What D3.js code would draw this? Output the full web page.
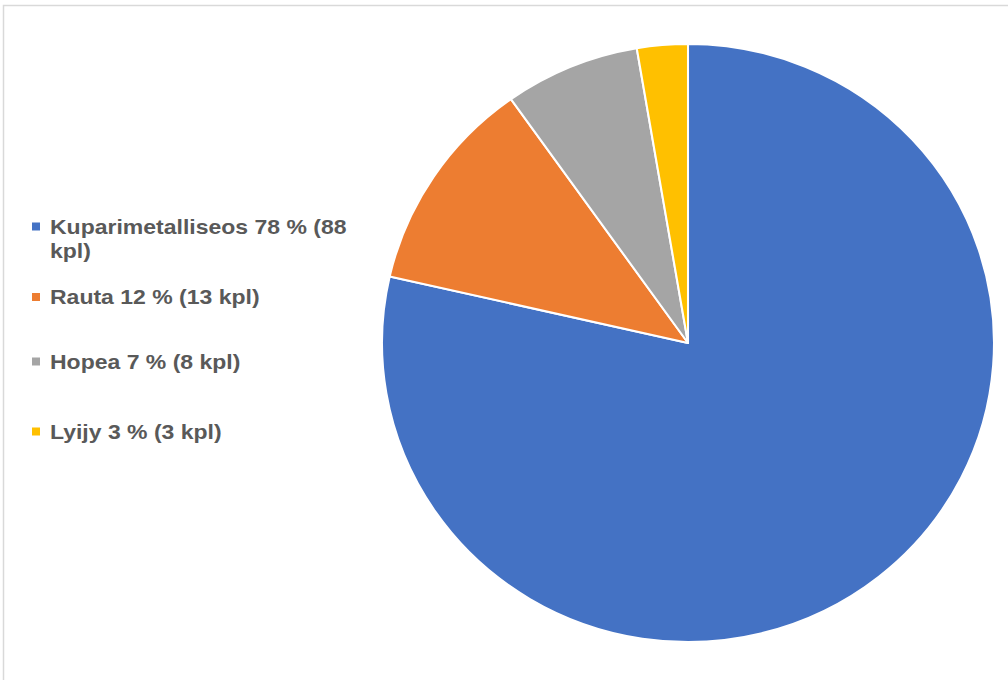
<!DOCTYPE html>
<html><head><meta charset="utf-8">
<script src="https://cdn.jsdelivr.net/npm/d3@7"></script>
<style>body{margin:0;background:#fff;}svg{display:block;}</style>
</head><body>
<svg id="chart" width="1008" height="680"></svg>
<script>
const categories = ["Kuparimetalliseos", "Rauta", "Hopea", "Lyijy"];
const values = [88, 13, 8, 3];
const percents = [78, 12, 7, 3];
const colors = ["#4472C4", "#ED7D31", "#A5A5A5", "#FFC000"];
const legendLines = [["Kuparimetalliseos 78 % (88", "kpl)"], ["Rauta 12 % (13 kpl)"], ["Hopea 7 % (8 kpl)"], ["Lyijy 3 % (3 kpl)"]];

const svg = d3.select("#chart");
svg.append("rect").attr("x", 3.5).attr("y", 5.5).attr("width", 1010).attr("height", 690)
  .attr("fill", "#fff").attr("stroke", "#d9d9d9").attr("stroke-width", 1.5);

const cx = 688, cy = 343, ry = 299, rx = 306;
const pie = d3.pie().sort(null).value(d => d)(values);
const arc = d3.arc().innerRadius(0).outerRadius(ry);
const g = svg.append("g").attr("transform", `translate(${cx},${cy}) scale(${rx/ry},1)`);
g.selectAll("path").data(pie).join("path")
  .attr("d", arc).attr("fill", (d, i) => colors[i])
  .attr("stroke", "#fff").attr("stroke-width", 2).attr("stroke-linejoin", "round");

const baselines = [233.5, 304, 368.5, 438.5];
const lg = svg.append("g");
categories.forEach((c, i) => {
  lg.append("rect").attr("x", 32).attr("y", baselines[i] - 11).attr("width", 8).attr("height", 8).attr("fill", colors[i]);
  const t = lg.append("g").attr("transform", `translate(50,${baselines[i]}) scale(1.15,1)`)
    .append("text").attr("x", 0).attr("y", 0)
    .attr("font-family", "Liberation Sans, Arial, sans-serif").attr("font-weight", "bold")
    .attr("font-size", 20).attr("fill", "#595959");
  legendLines[i].forEach((ln, j) => {
    t.append("tspan").attr("x", 0).attr("dy", j === 0 ? 0 : 24.5).text(ln);
  });
});
</script>
</body></html>
